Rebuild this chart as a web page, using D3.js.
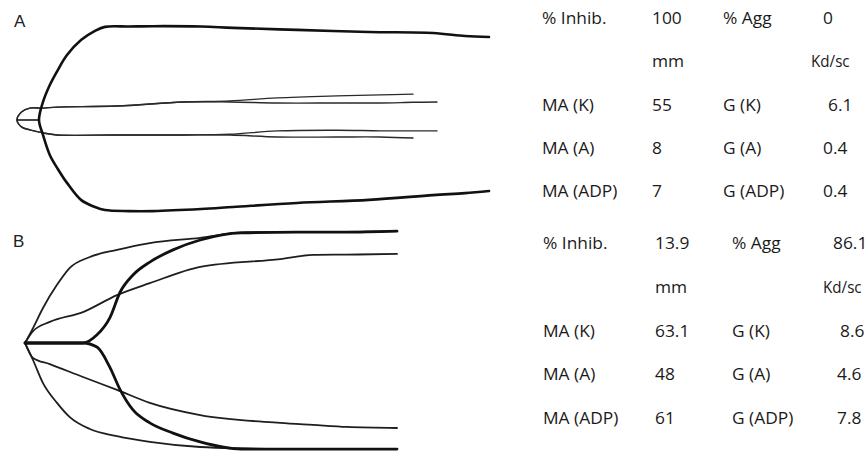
<!DOCTYPE html>
<html><head><meta charset="utf-8">
<script src="https://cdn.jsdelivr.net/npm/d3@7"></script>
<style>body{margin:0;background:#fff}svg{display:block}</style>
</head><body>
<svg id="c" width="867" height="452"></svg>
<script>
// ---------- DATA (time in minutes, amplitude in mm; upper > 0, lower < 0) ----------
// Panel A – kaolin trace (thick); first point starts the flat R segment
const timeAK  = [0, 2.75, 3.25, 4.1, 5.1, 6.25, 8, 9.75, 11, 14, 17, 23, 27, 35, 44, 52, 56, 59];
const upperAK = [0, 0, 5.3, 10.3, 14.7, 19.1, 23.5, 26.2, 27.4, 27.5, 27.6, 27.5, 27.1, 26.5, 25.9, 25.6, 24.7, 24.4];
const lowerAK = [0, 0, -4.4, -10.3, -14.4, -18.5, -23.5, -25.6, -26.5, -26.8, -26.8, -26.2, -25.6, -24.4, -23.5, -22.1, -21.5, -20.9];
// Panel A – arachidonic acid trace (thin)
const timeAA  = [0, 0.6, 1.6, 3.25, 5, 12.5, 20.75, 26.6, 32.5, 40, 45.4, 49.5];
const upperAA = [0, 2.4, 3.5, 3.5, 3.8, 4.1, 5.3, 5.6, 6.5, 7.1, 7.4, 7.6];
const lowerAA = [0, -2.1, -2.9, -3.8, -4.4, -4.4, -4.4, -4.4, -5.0, -5.0, -5.0, -5.3];
// Panel A – ADP trace (thin)
const timeAD  = [0, 0.6, 1.6, 3.25, 5, 12.5, 20.75, 26.6, 32.5, 40, 45.4, 49.5, 52.5];
const upperAD = [0, 2.4, 3.5, 3.5, 3.8, 4.1, 5.3, 5.3, 5.0, 5.0, 5.0, 5.2, 5.3];
const lowerAD = [0, -2.1, -2.9, -3.8, -4.4, -4.4, -4.4, -4.2, -3.2, -3.0, -3.2, -3.2, -3.2];

// Panel B – kaolin trace (thick)
const timeBK  = [0, 7.25, 9, 10.6, 11.9, 13.5, 15.6, 18.5, 21.9, 27, 34, 40, 46.5];
const upperBK = [0, 0, 2.4, 7.4, 15.0, 20.0, 23.8, 27.4, 30.3, 32.4, 32.6, 32.6, 32.9];
const lowerBK = [0, 0, -1.2, -7.1, -13.8, -19.7, -23.5, -26.5, -29.1, -31.2, -31.2, -31.2, -31.2];
// Panel B – fast trace (thin)
const timeBF  = [0, 1, 2.25, 4, 5.6, 8.1, 11.5, 15.6, 21.9, 27.75, 34, 40, 46.5];
const upperBF = [0, 4.4, 10.3, 17.1, 22.1, 25.3, 27.4, 29.4, 30.9, 32.6, 32.6, 32.7, 32.9];
const lowerBF = [0, -5.0, -11.8, -17.6, -21.8, -25.3, -27.4, -29.1, -30.6, -31.0, -31.2, -31.2, -31.2];
// Panel B – slow trace (thin)
const timeBS  = [0, 1, 3.1, 7.25, 11.5, 15.6, 21.9, 31.9, 36, 40.25, 46.5];
const upperBS = [0, 3.5, 6.2, 9.1, 14.1, 17.6, 22.4, 24.7, 25.9, 26.0, 26.2];
const lowerBS = [0, -4.4, -6.2, -10.0, -13.8, -17.6, -21.2, -23.5, -24.1, -24.7, -25.0];

// Tables
const leftLabelsA  = ["% Inhib.", "", "MA (K)", "MA (A)", "MA (ADP)"];
const leftValuesA  = ["100", "mm", "55", "8", "7"];
const rightLabelsA = ["% Agg", "", "G (K)", "G (A)", "G (ADP)"];
const rightValuesA = ["0", "Kd/sc", "6.1", "0.4", "0.4"];
const leftLabelsB  = ["% Inhib.", "", "MA (K)", "MA (A)", "MA (ADP)"];
const leftValuesB  = ["13.9", "mm", "63.1", "48", "61"];
const rightLabelsB = ["% Agg", "", "G (K)", "G (A)", "G (ADP)"];
const rightValuesB = ["86.1", "Kd/sc", "8.6", "4.6", "7.8"];
const panelLabels = ["A", "B"];

// ---------- DRAWING ----------
const svg = d3.select("#c");
svg.append("rect").attr("width", 867).attr("height", 452).attr("fill", "#fff");

const xA = d3.scaleLinear().domain([0, 60]).range([17, 497]);
const yA = d3.scaleLinear().domain([-35.3, 35.3]).range([240, 0]);
const xB = d3.scaleLinear().domain([0, 60]).range([25, 505]);
const yB = d3.scaleLinear().domain([-35.3, 35.3]).range([463, 223]);

function zip(t, v) { return t.map((d, i) => [d, v[i]]); }

// Panel A: envelope drawn as one parametric curve through the vertex
function drawEnvelope(g, t, up, lo, x, y, width, color) {
  let v = 0;
  while (v + 1 < t.length && up[v + 1] === 0 && lo[v + 1] === 0) v++;
  const pts = [];
  for (let i = t.length - 1; i >= v; i--) pts.push([x(t[i]), y(up[i])]);
  for (let i = v + 1; i < t.length; i++) pts.push([x(t[i]), y(lo[i])]);
  g.append("path").attr("d", d3.line().curve(d3.curveCatmullRom.alpha(0.5))(pts))
    .attr("fill", "none").attr("stroke", color).attr("stroke-width", width)
    .attr("stroke-linejoin", "round").attr("stroke-linecap", "round");
  if (v > 0) {
    const r = t.slice(0, v + 1).map(d => [x(d), y(0)]);
    g.append("path").attr("d", d3.line()(r)).attr("fill", "none")
      .attr("stroke", color).attr("stroke-width", width * 0.6);
  }
}
// Panel B: each side drawn as a function of time
function drawSides(g, t, up, lo, x, y, width, color) {
  const line = d3.line().x(d => x(d[0])).y(d => y(d[1])).curve(d3.curveMonotoneX);
  [up, lo].forEach(s => {
    g.append("path").attr("d", line(zip(t, s))).attr("fill", "none")
      .attr("stroke", color).attr("stroke-width", width)
      .attr("stroke-linejoin", "round").attr("stroke-linecap", "round");
  });
}

const gA = svg.append("g");
drawEnvelope(gA, timeAA, upperAA, lowerAA, xA, yA, 1.4, "#2a2a2a");
drawEnvelope(gA, timeAD, upperAD, lowerAD, xA, yA, 1.4, "#2a2a2a");
drawEnvelope(gA, timeAK, upperAK, lowerAK, xA, yA, 2.6, "#111");

const gB = svg.append("g");
drawSides(gB, timeBS, upperBS, lowerBS, xB, yB, 1.8, "#1e1e1e");
drawSides(gB, timeBF, upperBF, lowerBF, xB, yB, 1.8, "#1e1e1e");
drawSides(gB, timeBK, upperBK, lowerBK, xB, yB, 2.8, "#111");

// panel letters
svg.selectAll("text.panel").data(panelLabels).enter().append("text")
  .attr("class", "panel")
  .attr("x", (d, i) => i === 0 ? 14 : 13)
  .attr("y", (d, i) => i === 0 ? 27 : 247)
  .attr("font-family", "Liberation Sans, Arial, sans-serif")
  .attr("font-size", 17).attr("fill", "#222").text(d => d);

// tables
function drawTable(cols, xs, y0, step, dxRight) {
  const g = svg.append("g").attr("font-family", "Open Sans, sans-serif")
    .attr("font-size", 15.5).attr("fill", "#1a1a1a");
  cols.forEach((col, ci) => {
    col.forEach((txt, ri) => {
      if (!txt) return;
      const dx = ci === 3 ? dxRight[ri] : 0;
      const sx = txt === "Kd/sc" ? 0.98 : 1.12;
      g.append("text")
        .attr("transform", `translate(${xs[ci] + dx},${y0 + ri * step}) scale(${sx},1)`)
        .attr("dominant-baseline", "middle").text(txt);
    });
  });
}
drawTable([leftLabelsA, leftValuesA, rightLabelsA, rightValuesA], [542, 652, 723, 823], 20, 43.25, [0, -12, 5, 0, 0]);
drawTable([leftLabelsB, leftValuesB, rightLabelsB, rightValuesB], [543, 655, 732, 833], 245, 43.75, [0, -10, 7, 4, 4]);
</script>
</body></html>
